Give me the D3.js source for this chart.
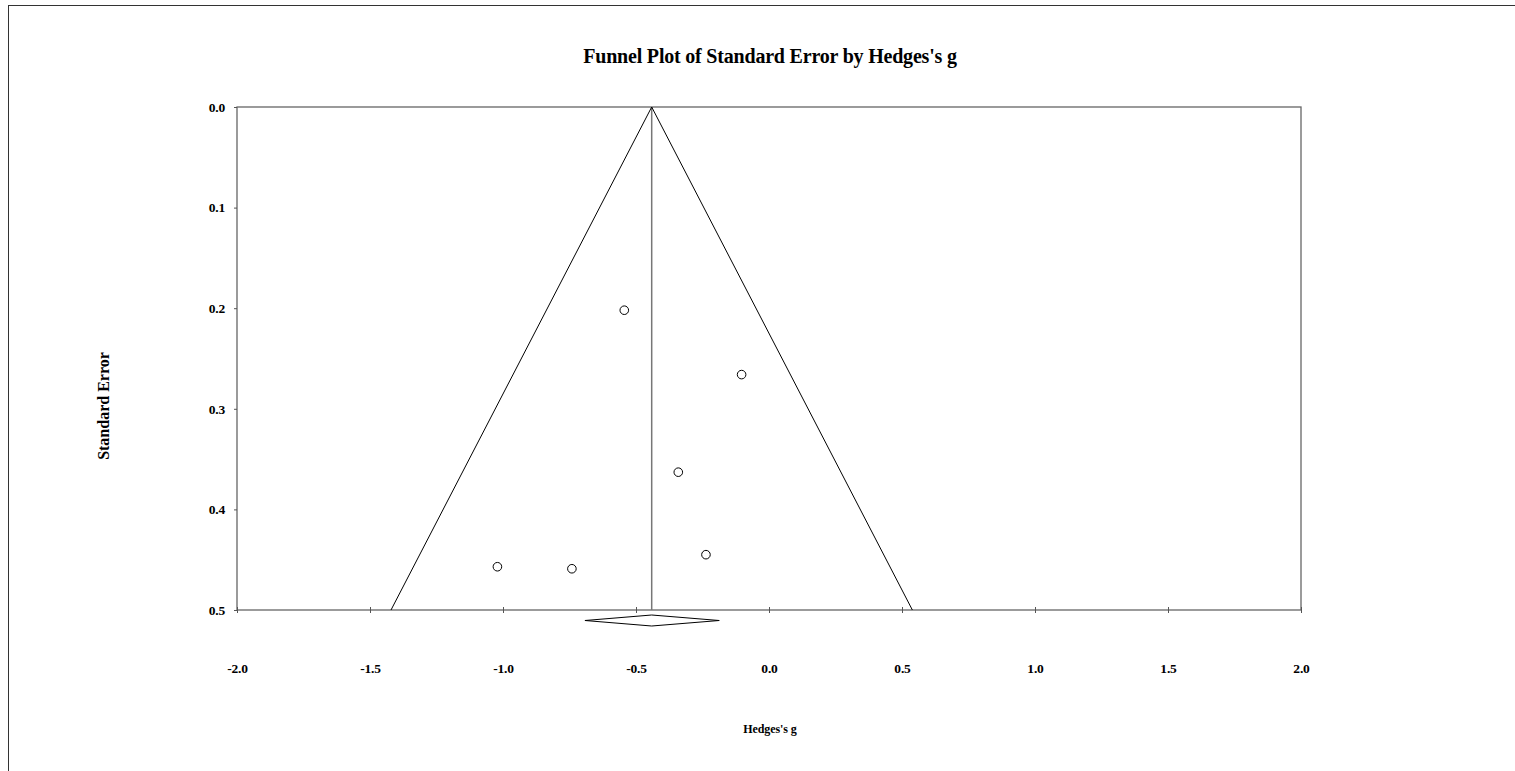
<!DOCTYPE html>
<html><head><meta charset="utf-8">
<script src="https://cdn.jsdelivr.net/npm/d3@7"></script>
<style>body{margin:0;background:#fff;} svg{display:block;}</style>
</head><body>
<script>
const title = "Funnel Plot of Standard Error by Hedges's g";
const xLabel = "Hedges's g";
const yLabel = "Standard Error";
const xTicks = [-2.0, -1.5, -1.0, -0.5, 0.0, 0.5, 1.0, 1.5, 2.0];
const yTicks = [0.0, 0.1, 0.2, 0.3, 0.4, 0.5];
const studyG  = [-0.544, -0.103, -0.341, -0.237, -1.021, -0.741];
const studySE = [0.202, 0.266, 0.363, 0.445, 0.457, 0.459];
const pooledG = -0.441;
const pooledLow = -0.692;
const pooledHigh = -0.187;
const zCrit = 1.96;

const W = 1515, H = 771;
const svg = d3.select("body").append("svg").attr("width", W).attr("height", H);
const font = "'Liberation Serif','Times New Roman',serif";

svg.append("rect").attr("x", 8.5).attr("y", 5.5).attr("width", 1600).attr("height", 900)
  .attr("fill", "none").attr("stroke", "#333").attr("stroke-width", 1);

const x = d3.scaleLinear().domain([-2, 2]).range([237, 1301]);
const y = d3.scaleLinear().domain([0, 0.5]).range([107, 610]);
const fmt = d => d.toFixed(1);

svg.append("text").attr("x", 770).attr("y", 63).attr("text-anchor", "middle")
  .attr("font-family", font).attr("font-weight", "bold").attr("font-size", 20)
  .attr("letter-spacing", -0.2).text(title);

// plot frame
svg.append("rect").attr("x", x(-2)).attr("y", y(0)).attr("width", x(2) - x(-2)).attr("height", y(0.5) - y(0))
  .attr("fill", "none").attr("stroke", "#666").attr("stroke-width", 1.3);

// y axis
const yAxis = d3.axisLeft(y).tickValues(yTicks).tickFormat(fmt).tickSize(3).tickPadding(9);
const gy = svg.append("g").attr("transform", `translate(${x(-2)},0)`).call(yAxis);
gy.select(".domain").remove();
gy.selectAll("line").attr("stroke", "#555");
gy.selectAll("text").attr("font-family", font).attr("font-weight", "bold").attr("font-size", 13.5)
  .attr("letter-spacing", -0.2).attr("fill", "#000");

// x axis
const xAxis = d3.axisBottom(x).tickValues(xTicks).tickFormat(fmt).tickSize(3).tickPadding(50);
const gx = svg.append("g").attr("transform", `translate(0,${y(0.5)})`).call(xAxis);
gx.select(".domain").remove();
gx.selectAll("line").attr("stroke", "#555").attr("y1", -3).attr("y2", 3);
gx.selectAll("text").attr("font-family", font).attr("font-weight", "bold").attr("font-size", 13.5)
  .attr("letter-spacing", -0.2).attr("fill", "#000");

// mean line
svg.append("line").attr("x1", x(pooledG)).attr("x2", x(pooledG)).attr("y1", y(0)).attr("y2", y(0.5))
  .attr("stroke", "#777").attr("stroke-width", 1.5);

// funnel
const seMax = 0.5;
const funnel = [[pooledG - zCrit * seMax, seMax], [pooledG, 0], [pooledG + zCrit * seMax, seMax]];
svg.append("path").attr("d", d3.line().x(d => x(d[0])).y(d => y(d[1]))(funnel))
  .attr("fill", "none").attr("stroke", "#000").attr("stroke-width", 1);

// points
svg.append("g").selectAll("circle").data(studyG.map((g, i) => [g, studySE[i]])).join("circle")
  .attr("cx", d => x(d[0])).attr("cy", d => y(d[1])).attr("r", 4.3)
  .attr("fill", "#fff").attr("stroke", "#000").attr("stroke-width", 1);

// diamond
const dy = y(0.5) + 10.5;
const diamond = [[pooledLow, 0], [pooledG, -5.5], [pooledHigh, 0], [pooledG, 5.5]];
svg.append("path").attr("d", "M" + diamond.map(d => `${x(d[0])},${dy + d[1]}`).join("L") + "Z")
  .attr("fill", "#fff").attr("stroke", "#000").attr("stroke-width", 1);

// axis titles
svg.append("text").attr("x", 770).attr("y", 733).attr("text-anchor", "middle")
  .attr("font-family", font).attr("font-weight", "bold").attr("font-size", 12)
  .attr("letter-spacing", -0.1).text(xLabel);
svg.append("text").attr("transform", "translate(109,406) rotate(-90)").attr("text-anchor", "middle")
  .attr("font-family", font).attr("font-weight", "bold").attr("font-size", 16)
  .attr("letter-spacing", 0).text(yLabel);
</script>
</body></html>
